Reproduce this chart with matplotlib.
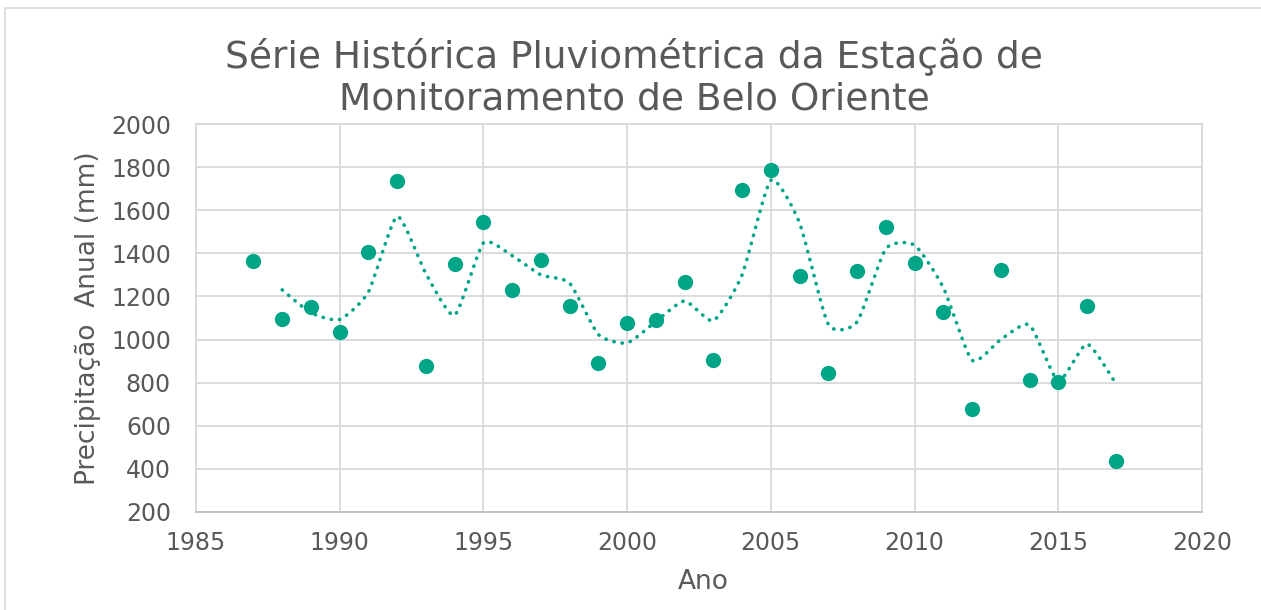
import numpy as np
import pandas as pd
import matplotlib
matplotlib.use("Agg")
import matplotlib.pyplot as plt

years = [1987, 1988, 1989, 1990, 1991, 1992, 1993, 1994, 1995, 1996,
         1997, 1998, 1999, 2000, 2001, 2002, 2003, 2004, 2005, 2006,
         2007, 2008, 2009, 2010, 2011, 2012, 2013, 2014, 2015, 2016, 2017]
precip = [1365, 1096, 1152, 1034, 1407, 1735, 876, 1350, 1546, 1232,
          1368, 1155, 892, 1077, 1090, 1268, 907, 1693, 1785, 1296,
          845, 1319, 1523, 1353, 1130, 678, 1322, 814, 803, 1155, 438]

title_lines = ["Série Histórica Pluviométrica da Estação de",
               "Monitoramento de Belo Oriente"]
xlabel = "Ano"
ylabel = "Precipitação  Anual (mm)"
xticks = [1985, 1990, 1995, 2000, 2005, 2010, 2015, 2020]
yticks = [200, 400, 600, 800, 1000, 1200, 1400, 1600, 1800, 2000]

color = "#00A587"
txt = "#595959"

# 2-period moving average trendline (as in the spreadsheet)
ma = pd.Series(precip, index=years).rolling(2).mean().dropna()
mx = np.array(ma.index, dtype=float)
my = ma.values.astype(float)


def smooth(x, y, n=20, k=0.1):
    # Bezier smoothing for rendering the trendline
    px = np.concatenate([[x[0]], x, [x[-1]]])
    py = np.concatenate([[y[0]], y, [y[-1]]])
    ox, oy = [], []
    for i in range(1, len(px) - 2):
        p0, p1, p2, p3 = (np.array([px[j], py[j]]) for j in (i - 1, i, i + 1, i + 2))
        c1 = p1 + (p2 - p0) * k
        c2 = p2 - (p3 - p1) * k
        t = np.linspace(0, 1, n, endpoint=False)[:, None]
        pts = ((1 - t) ** 3) * p1 + 3 * ((1 - t) ** 2) * t * c1 + 3 * (1 - t) * t ** 2 * c2 + t ** 3 * p2
        ox.extend(pts[:, 0]); oy.extend(pts[:, 1])
    ox.append(x[-1]); oy.append(y[-1])
    return np.array(ox), np.array(oy)


sx, sy = smooth(mx, my)

fig = plt.figure(figsize=(12.61, 6.10), dpi=100)
fig.patch.set_facecolor("white")
fig.add_artist(plt.Rectangle((0.004, -0.01), 1.0, 0.997, transform=fig.transFigure,
                             fill=False, edgecolor="#D9D9D9", linewidth=1.2))

ax = fig.add_axes([0.1554, 0.1607, 0.7978, 0.6360])
ax.set_xlim(1985, 2020)
ax.set_ylim(200, 2000)
ax.set_xticks(xticks)
ax.set_yticks(yticks)
ax.grid(True, color="#D9D9D9", linewidth=1.3)
ax.set_axisbelow(True)
for s in ["left", "right", "top"]:
    ax.spines[s].set_color("#D9D9D9")
    ax.spines[s].set_linewidth(1.3)
ax.spines["bottom"].set_color("#BFBFBF")
ax.spines["bottom"].set_linewidth(1.3)
ax.tick_params(length=0, labelsize=17, colors=txt)
ax.tick_params(axis="y", pad=18)
ax.tick_params(axis="x", pad=14)

ax.plot(sx, sy, color=color, linewidth=2.6, linestyle=(0, (0.1, 2.2)),
        dash_capstyle="round", zorder=2)
ax.plot(years, precip, "o", color=color, markersize=11, markeredgewidth=0, zorder=3)

fig.text(703 / 1261, 1 - 582 / 610, xlabel, ha="center", va="center", fontsize=19, color=txt)
fig.text(88 / 1261, 1 - 318 / 610, ylabel, ha="center", va="center", fontsize=19,
         color=txt, rotation=90)

fig.text(0.503, 0.908, title_lines[0], ha="center", va="center", fontsize=27, color=txt)
fig.text(0.503, 0.837, title_lines[1], ha="center", va="center", fontsize=27, color=txt)

fig.savefig("out.png", dpi=100, facecolor="white")
